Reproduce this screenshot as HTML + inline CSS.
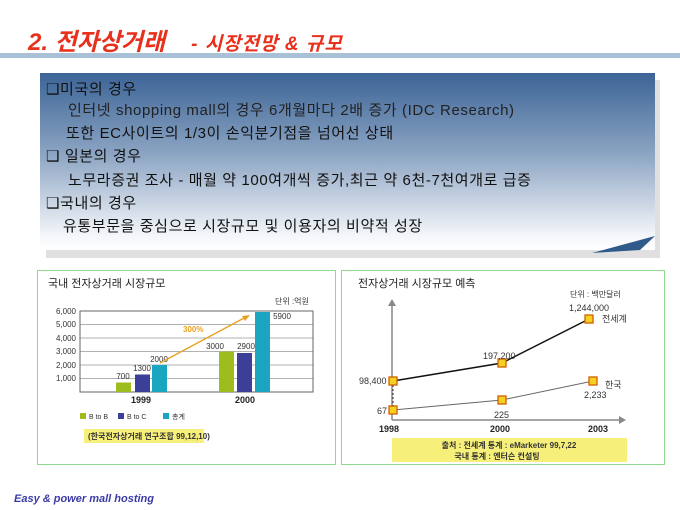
<!DOCTYPE html>
<html><head><meta charset="utf-8"><style>
body{margin:0;width:680px;height:510px;background:#fff;overflow:hidden;position:relative;font-family:"Liberation Sans","Noto Sans CJK KR",sans-serif}
.t{position:absolute;left:28px;top:22px;font-size:24px;font-weight:bold;font-style:italic;color:#e8301c;letter-spacing:0px;white-space:nowrap}
.t span{font-size:19px;margin-left:26px;letter-spacing:1px}
.bar{position:absolute;left:0;top:53px;width:680px;height:5px;background:#a9c1d6}
.sh{position:absolute;left:46px;top:80px;width:614px;height:178px;background:#e0e0e0}
.box{position:absolute;left:40px;top:73px;width:615px;height:177px;background:linear-gradient(#3c6496,#8aa3c2 45%,#f4f6fa 92%,#fff)}
.box div{position:absolute;font-size:15px;letter-spacing:0.6px;white-space:nowrap;color:#111}
.foot{position:absolute;left:14px;top:493px;font-size:11px;font-weight:bold;font-style:italic;color:#3b3ba8}
</style></head><body>
<div class="t">2. 전자상거래<span>- 시장전망 &amp; 규모</span></div>
<div class="bar"></div>
<div class="sh"></div>
<div class="box">
<div style="left:6px;top:5px">❑미국의 경우</div>
<div style="left:28px;top:26px;color:#222">인터넷 shopping mall의 경우 6개월마다 2배 증가 (IDC Research)</div>
<div style="left:26px;top:49px">또한 EC사이트의 1/3이 손익분기점을 넘어선 상태</div>
<div style="left:6px;top:72px">❑ 일본의 경우</div>
<div style="left:28px;top:96px">노무라증권 조사 - 매월 약 100여개씩  증가,최근 약 6천-7천여개로 급증</div>
<div style="left:6px;top:119px">❑국내의 경우</div>
<div style="left:23px;top:142px">유통부문을 중심으로 시장규모 및 이용자의 비약적 성장</div>
</div>
<svg style="position:absolute;left:0;top:0" width="680" height="510" font-family="Liberation Sans,Noto Sans CJK KR,sans-serif">
<polygon points="592,253 655,236 640,250" fill="#2f5a8a"/>
<rect x="37.5" y="270.5" width="298" height="194" fill="#fff" stroke="#8fd88f"/>
<rect x="341.5" y="270.5" width="323" height="194" fill="#fff" stroke="#8fd88f"/>
<text x="48" y="287" font-size="11" fill="#222">국내 전자상거래 시장규모</text>
<text x="275" y="304" font-size="8" fill="#333">단위 :억원</text>
<g stroke="#999" stroke-width="0.7">
<line x1="80" y1="311" x2="313" y2="311"/><line x1="80" y1="324.5" x2="313" y2="324.5"/><line x1="80" y1="338" x2="313" y2="338"/><line x1="80" y1="351.5" x2="313" y2="351.5"/><line x1="80" y1="365" x2="313" y2="365"/><line x1="80" y1="378.5" x2="313" y2="378.5"/></g>
<rect x="80" y="311" width="233" height="81" fill="none" stroke="#666"/>
<g font-size="8" fill="#333" text-anchor="end"><text x="76" y="314">6,000</text><text x="76" y="327">5,000</text><text x="76" y="341">4,000</text><text x="76" y="354">3,000</text><text x="76" y="368">2,000</text><text x="76" y="381">1,000</text></g>
<rect x="116" y="382.5" width="15" height="9.5" fill="#9dbd1e"/><rect x="135" y="374.5" width="15" height="17.5" fill="#3c3f98"/><rect x="152" y="365" width="15" height="27" fill="#1aa6c0"/>
<rect x="219" y="351.5" width="15" height="40.5" fill="#9dbd1e"/><rect x="237" y="353" width="15" height="39" fill="#3c3f98"/><rect x="255" y="312" width="15" height="80" fill="#1aa6c0"/>
<g font-size="8" fill="#333" text-anchor="middle"><text x="123" y="379">700</text><text x="142" y="371">1300</text><text x="159" y="362">2000</text><text x="215" y="349">3000</text><text x="246" y="349">2900</text><text x="282" y="319">5900</text></g>
<line x1="160" y1="363" x2="246" y2="317" stroke="#e8a020" stroke-width="1.3"/><polygon points="250,315 242,316 245,321" fill="#e8a020"/>
<text x="183" y="332" font-size="8" font-weight="bold" fill="#e8a020">300%</text>
<g font-size="9" font-weight="bold" fill="#222" text-anchor="middle"><text x="141" y="403">1999</text><text x="245" y="403">2000</text></g>
<rect x="80" y="413" width="6" height="6" fill="#9dbd1e"/><text x="89" y="419" font-size="7" fill="#333">B to B</text>
<rect x="118" y="413" width="6" height="6" fill="#3c3f98"/><text x="127" y="419" font-size="7" fill="#333">B to C</text>
<rect x="163" y="413" width="6" height="6" fill="#1aa6c0"/><text x="172" y="419" font-size="7" fill="#333">총계</text>
<rect x="84" y="429" width="120" height="14" fill="#f6f07a"/><text x="88" y="439" font-size="8" font-weight="bold" fill="#333">(한국전자상거래 연구조합 99,12,10)</text>
<text x="358" y="287" font-size="11" fill="#222">전자상거래 시장규모 예측</text>
<text x="570" y="297" font-size="8" fill="#333">단위 : 백만달러</text>
<line x1="392" y1="420" x2="392" y2="304" stroke="#888" stroke-width="1.5"/><polygon points="392,299 388,306 396,306" fill="#888"/>
<line x1="392" y1="420" x2="620" y2="420" stroke="#888" stroke-width="1.5"/><polygon points="626,420 619,416 619,424" fill="#888"/>
<line x1="393" y1="381" x2="393" y2="410" stroke="#333" stroke-dasharray="2,2"/>
<polyline points="393,381 502,363 589,319" fill="none" stroke="#111" stroke-width="1.5"/>
<polyline points="393,410 502,400 593,381" fill="none" stroke="#666" stroke-width="1"/>
<g fill="#f5d020" stroke="#d06000" stroke-width="1.3"><rect x="389" y="377" width="8" height="8"/><rect x="498" y="359" width="8" height="8"/><rect x="585" y="315" width="8" height="8"/><rect x="389" y="406" width="8" height="8"/><rect x="498" y="396" width="8" height="8"/><rect x="589" y="377" width="8" height="8"/></g>
<g font-size="9" fill="#333"><text x="359" y="384">98,400</text><text x="377" y="414">67</text><text x="483" y="359">197,200</text><text x="494" y="418">225</text><text x="569" y="311">1,244,000</text><text x="602" y="322">전세계</text><text x="605" y="388">한국</text><text x="584" y="398">2,233</text></g>
<g font-size="9" font-weight="bold" fill="#222"><text x="379" y="432">1998</text><text x="490" y="432">2000</text><text x="588" y="432">2003</text></g>
<rect x="392" y="438" width="235" height="24" fill="#f6f07a"/>
<text x="509" y="448" font-size="8" font-weight="bold" fill="#333" text-anchor="middle">출처 : 전세계 통계 : eMarketer 99,7,22</text>
<text x="497" y="459" font-size="8" font-weight="bold" fill="#333" text-anchor="middle">국내 통계 : 엔터슨 컨설팅</text>
</svg>
<div class="foot">Easy &amp; power mall hosting</div>
</body></html>
